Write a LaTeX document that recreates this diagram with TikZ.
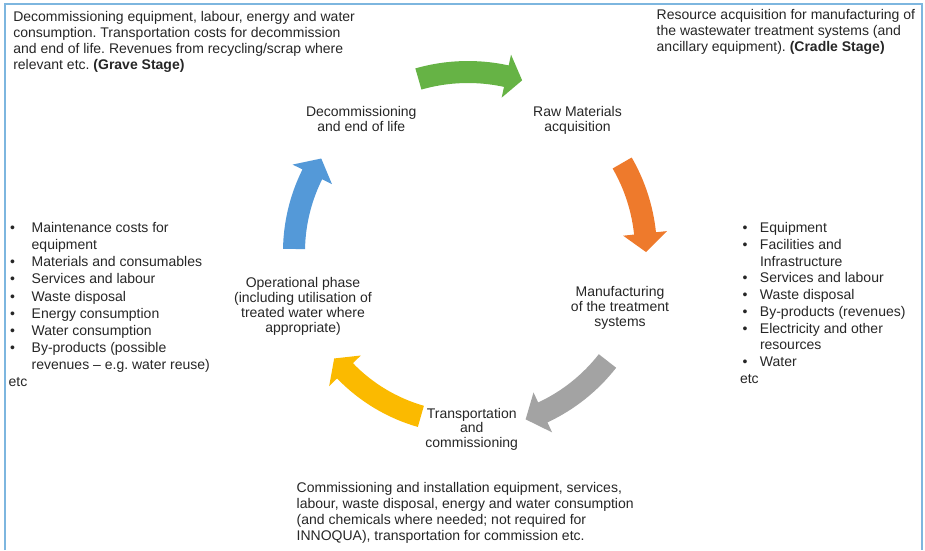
\documentclass[tikz,border=0pt]{standalone}
\usepackage{fontspec}
\setmainfont{Liberation Sans}
\frenchspacing
\definecolor{frameblue}{HTML}{7DB6DF}
\definecolor{txt}{HTML}{262626}
\definecolor{agreen}{HTML}{66B345}
\definecolor{aorange}{HTML}{EE7A2C}
\definecolor{agray}{HTML}{A3A3A3}
\definecolor{ayellow}{HTML}{FBBA00}
\definecolor{ablue}{HTML}{5499D8}
\newcommand\fs[1]{\fontsize{14}{#1}\selectfont}
% color, tail angle, head-base angle, tip angle, radius
\newcommand\cycarrow[5]{%
  \fill[#1] ([shift={({#2}:{#5-11})}]C) arc[start angle=#2,end angle=#3,radius={#5-11}]
    -- ([shift={({#3}:{#5-22})}]C) -- ([shift={({#4}:{#5})}]C)
    -- ([shift={({#3}:{#5+22})}]C) -- ([shift={({#3}:{#5+11})}]C)
    arc[start angle=#3,end angle=#2,radius={#5+11}] -- cycle;}
\begin{document}
\begin{tikzpicture}[x=1pt,y=-1pt,
  every node/.style={inner sep=0pt,outer sep=0pt,text=txt},
  blk/.style={anchor=base west},
  lbl/.style={anchor=base}]
\useasboundingbox (0,0) rectangle (925,550);
\draw[frameblue,line width=1.6pt] (5,550) -- (5,4) -- (922,4) -- (922,550);

\coordinate (C) at (468,252);
\cycarrow{agreen}{254}{282.3}{287.5}{180}
\cycarrow{aorange}{330}{354}{360}{178}
\cycarrow{agray}{38}{65}{71}{177}
\cycarrow{ayellow}{106}{136}{141.5}{171}
\cycarrow{ablue}{181}{206.5}{212.5}{174}

\node[blk] (grave) at (13.3,21.2) {\fs{16.1}\begin{tabular}[t]{@{}l@{}}
Decommissioning equipment, labour, energy and water\\
consumption. Transportation costs for decommission\\
and end of life. Revenues from recycling/scrap where\\
relevant etc. \textbf{(Grave Stage)}\end{tabular}};

\node[blk] (cradle) at (656.7,19.5) {\fs{15.8}\begin{tabular}[t]{@{}l@{}}
Resource acquisition for manufacturing of\\
the wastewater treatment systems (and\\
ancillary equipment). \textbf{(Cradle Stage)}\end{tabular}};

\node[blk] (oplist) at (10.2,232.8) {\fs{17.05}\begin{tabular}[t]{@{}p{21.5pt}@{}l@{}}
\textbullet & Maintenance costs for\\
 & equipment\\
\textbullet & Materials and consumables\\
\textbullet & Services and labour\\
\textbullet & Waste disposal\\
\textbullet & Energy consumption\\
\textbullet & Water consumption\\
\textbullet & By-products (possible\\
 & revenues -- e.g. water reuse)\\
\multicolumn{2}{@{}l@{}}{\hspace{-1.5pt}etc}\end{tabular}};

\node[blk] (mflist) at (742.5,232.8) {\fs{16.7}\begin{tabular}[t]{@{}p{17.5pt}@{}l@{}}
\textbullet & Equipment\\
\textbullet & Facilities and\\
 & Infrastructure\\
\textbullet & Services and labour\\
\textbullet & Waste disposal\\
\textbullet & By-products (revenues)\\
\textbullet & Electricity and other\\
 & resources\\
\textbullet & Water\\
\multicolumn{2}{@{}l@{}}{\hspace{-2.5pt}etc}\end{tabular}};

\node[blk] (trlist) at (296.7,492.8) {\fs{15.8}\begin{tabular}[t]{@{}l@{}}
Commissioning and installation equipment, services,\\
labour, waste disposal, energy and water consumption\\
(and chemicals where needed; not required for\\
INNOQUA), transportation for commission etc.\end{tabular}};

\node[lbl] (decom) at (361.3,116.8) {\fs{14.4}\begin{tabular}[t]{@{}c@{}}
Decommissioning\\ and end of life\end{tabular}};
\node[lbl] (raw) at (577.5,116.8) {\fs{14.4}\begin{tabular}[t]{@{}c@{}}
Raw Materials\\ acquisition\end{tabular}};
\node[lbl] (manu) at (620,296) {\fs{15}\begin{tabular}[t]{@{}c@{}}
Manufacturing\\ of the treatment\\ systems\end{tabular}};
\node[lbl] (oper) at (303,287.8) {\fs{15}\begin{tabular}[t]{@{}c@{}}
Operational phase\\ (including utilisation of\\ treated water where\\ appropriate)\end{tabular}};
\node[lbl] (trans) at (471.7,418.5) {\fs{14}\begin{tabular}[t]{@{}c@{}}
Transportation\\ and\\ commissioning\end{tabular}};
\end{tikzpicture}
\end{document}
